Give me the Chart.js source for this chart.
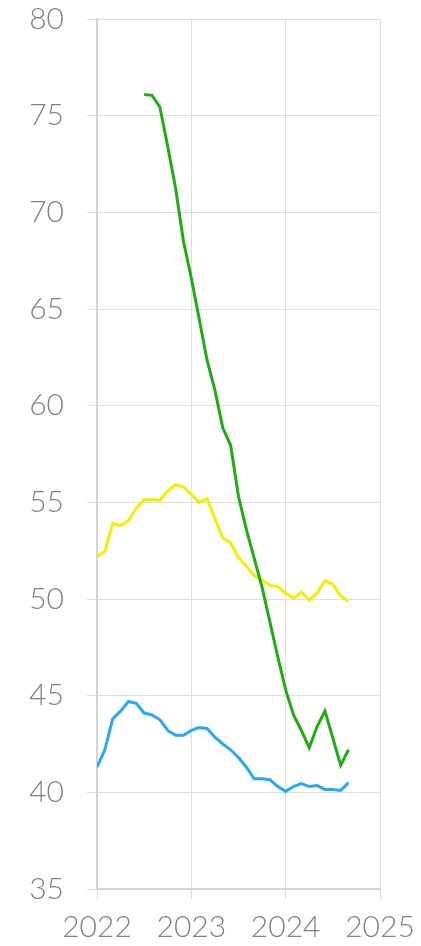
<!DOCTYPE html>
<html>
<head>
<meta charset="utf-8">
<script src="https://cdn.jsdelivr.net/npm/chart.js@4"></script>
<style>
  html, body { margin: 0; padding: 0; background: #fff; }
  canvas { display: block; }
</style>
</head>
<body>
<canvas id="chart" width="421" height="946"></canvas>
<script>
'use strict';

// ── Data (monthly, Jan 2022 – Sep 2024) ──────────────────────────────────────

const months = [
  '2022-01', '2022-02', '2022-03', '2022-04', '2022-05', '2022-06',
  '2022-07', '2022-08', '2022-09', '2022-10', '2022-11', '2022-12',
  '2023-01', '2023-02', '2023-03', '2023-04', '2023-05', '2023-06',
  '2023-07', '2023-08', '2023-09', '2023-10', '2023-11', '2023-12',
  '2024-01', '2024-02', '2024-03', '2024-04', '2024-05', '2024-06',
  '2024-07', '2024-08', '2024-09',
];

const greenSeries = [
  null, null, null, null, null, null,
  76.1, 76.05, 75.45, 73.4, 71.25, 68.5,
  66.6, 64.5, 62.35, 60.8, 58.85, 57.95,
  55.3, 53.6, 52.1, 50.6, 48.8, 47.0,
  45.3, 44.0, 43.2, 42.3, 43.4, 44.2,
  42.8, 41.4, 42.2,
];

const yellowSeries = [
  52.2, 52.45, 53.9, 53.8, 54.05, 54.7,
  55.15, 55.15, 55.1, 55.6, 55.9, 55.8,
  55.4, 55.0, 55.2, 54.15, 53.15, 52.9,
  52.15, 51.7, 51.2, 51.0, 50.7, 50.65,
  50.3, 50.05, 50.35, 49.95, 50.3, 50.95,
  50.75, 50.15, 49.9,
];

const blueSeries = [
  41.3, 42.2, 43.8, 44.2, 44.7, 44.6,
  44.1, 44.0, 43.75, 43.2, 42.95, 42.95,
  43.2, 43.35, 43.3, 42.85, 42.5, 42.2,
  41.8, 41.3, 40.7, 40.7, 40.65, 40.3,
  40.05, 40.3, 40.45, 40.3, 40.35, 40.15,
  40.15, 40.1, 40.5,
];

const xTicks = [2022, 2023, 2024, 2025];
const yTicks = [35, 40, 45, 50, 55, 60, 65, 70, 75, 80];

// ── Styling ──────────────────────────────────────────────────────────────────

const LABEL_COLOR = '#828282';
const GRID_COLOR  = '#dedede';
const AXIS_COLOR  = '#d4d4d4';
const FONT = { family: 'Lato, "Noto Sans", sans-serif', size: 30, weight: 300, lineHeight: 1.2 };

// month "YYYY-MM" → decimal year position on the linear x axis
function toYear(m) {
  const [y, mo] = m.split('-').map(Number);
  return y + (mo - 1) / 12;
}

function points(series) {
  return series.map((v, i) => ({ x: toYear(months[i]), y: v }));
}

function lineSet(label, series, color) {
  return {
    label,
    data: points(series),
    borderColor: color,
    backgroundColor: color,
    borderWidth: 3,
    pointRadius: 0,
    tension: 0,
    spanGaps: false,
  };
}

new Chart(document.getElementById('chart'), {
  type: 'line',
  data: {
    datasets: [
      lineSet('green', greenSeries, '#20ab14'),
      lineSet('yellow', yellowSeries, '#f2ee00'),
      lineSet('blue', blueSeries, '#2aa8f2'),
    ],
  },
  options: {
    animation: false,
    responsive: false,
    // plot area fixed: left 97, right 380, top 19, bottom 889
    layout: { padding: { top: 19, right: 41, bottom: 0, left: 0 } },
    plugins: { legend: { display: false }, tooltip: { enabled: false } },
    scales: {
      x: {
        type: 'linear',
        min: xTicks[0],
        max: xTicks[xTicks.length - 1],
        afterBuildTicks: (s) => { s.ticks = xTicks.map(v => ({ value: v })); },
        afterFit: (s) => { s.height = 57; s.paddingLeft = 0; s.paddingRight = 0; },
        border: { display: true, color: AXIS_COLOR, width: 2 },
        grid: { color: GRID_COLOR, lineWidth: 1, tickLength: 10 },
        ticks: {
          color: LABEL_COLOR,
          font: FONT,
          padding: 10,
          maxRotation: 0,
          callback: (v) => String(v),
        },
      },
      y: {
        min: yTicks[0],
        max: yTicks[yTicks.length - 1],
        afterBuildTicks: (s) => { s.ticks = yTicks.map(v => ({ value: v })); },
        afterFit: (s) => { s.width = 97; s.paddingTop = 0; s.paddingBottom = 0; },
        border: { display: true, color: AXIS_COLOR, width: 2 },
        grid: { color: GRID_COLOR, lineWidth: 1, tickLength: 10 },
        ticks: {
          color: LABEL_COLOR,
          font: FONT,
          padding: 23,
          callback: (v) => String(v),
        },
      },
    },
  },
});
</script>
</body>
</html>
